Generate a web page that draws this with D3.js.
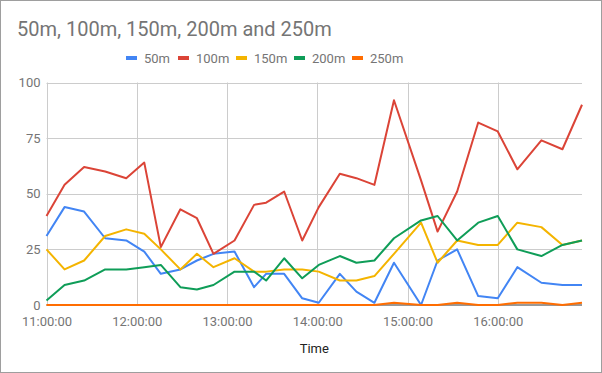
<!DOCTYPE html>
<html>
<head>
    <title>50m, 100m, 150m, 200m and 250m</title>
    <script src="https://d3js.org/d3.v7.min.js"></script>
    <style>
        body { margin: 0; background: #fff; }
        text { font-family: Roboto, Arial, sans-serif; }
    </style>
</head>
<body>
    <svg id="chart"></svg>

    <script>
        const times = [
            "11:00", "11:12", "11:25", "11:39", "11:53", "12:05", "12:16", "12:29",
            "12:40", "12:51", "13:05", "13:18", "13:26", "13:38", "13:50", "14:01",
            "14:15", "14:26", "14:38", "14:51", "15:09", "15:20", "15:33", "15:47",
            "16:00", "16:13", "16:29", "16:43", "16:56"
        ];
        const s50 = [31, 44, 42, 30, 29, 24, 14, 16, 20, 23, 24, 8, 14, 14, 3, 1,
            14, 6, 1, 19, 0, 20, 25, 4, 3, 17, 10, 9, 9];
        const s100 = [40, 54, 62, 60, 57, 64, 26, 43, 39, 23, 29, 45, 46, 51, 29, 44,
            59, 57, 54, 92, 56, 33, 51, 82, 78, 61, 74, 70, 90];
        const s150 = [25, 16, 20, 31, 34, 32, 25, 16, 23, 17, 21, 15, 15, 16, 16, 15,
            11, 11, 13, 23, 37, 19, 29, 27, 27, 37, 35, 27, 29];
        const s200 = [2, 9, 11, 16, 16, 17, 18, 8, 7, 9, 15, 15, 11, 21, 12, 18,
            22, 19, 20, 30, 38, 40, 29, 37, 40, 25, 22, 27, 29];
        const s250 = [0, 0, 0, 0, 0, 0, 0, 0, 0, 0, 0, 0, 0, 0, 0, 0,
            0, 0, 0, 1, 0, 0, 1, 0, 0, 1, 1, 0, 1];
        const seriesNames = ["50m", "100m", "150m", "200m", "250m"];
        const seriesValues = [s50, s100, s150, s200, s250];
        const colors = ["#4285f4", "#db4437", "#f4b400", "#0f9d58", "#ff6d01"];
        const yTicks = [0, 25, 50, 75, 100];
        const xTicks = ["11:00", "12:00", "13:00", "14:00", "15:00", "16:00"];

        const W = 602, H = 373;
        const plot = { left: 46.5, right: 582, top: 82.5, bottom: 305 };

        const parse = d3.timeParse("%H:%M");
        const dates = times.map(parse);

        const svg = d3.select("#chart").attr("width", W).attr("height", H);

        svg.append("rect")
            .attr("x", 0.5).attr("y", 0.5)
            .attr("width", W - 1).attr("height", H - 1)
            .attr("fill", "#fff").attr("stroke", "#9e9e9e");

        const x = d3.scaleTime()
            .domain([dates[0], dates[dates.length - 1]])
            .range([plot.left, plot.right]);
        const y = d3.scaleLinear()
            .domain([0, 100])
            .range([plot.bottom, plot.top]);

        // title
        svg.append("text")
            .attr("x", 17).attr("y", 36)
            .attr("font-size", 20)
            .attr("fill", "#757575")
            .text("50m, 100m, 150m, 200m and 250m");

        // legend
        const legendX = [126, 178, 236, 294, 352];
        const legend = svg.append("g");
        seriesNames.forEach((name, i) => {
            legend.append("rect")
                .attr("x", legendX[i]).attr("y", 56)
                .attr("width", 11).attr("height", 4)
                .attr("fill", colors[i]);
            legend.append("text")
                .attr("x", legendX[i] + 18).attr("y", 62.5)
                .attr("font-size", 13)
                .attr("fill", "#757575")
                .text(name);
        });

        // gridlines
        const grid = svg.append("g");
        grid.selectAll("line.h")
            .data(yTicks.filter(d => d > 0))
            .join("line")
            .attr("x1", plot.left).attr("x2", plot.right)
            .attr("y1", d => Math.round(y(d)) + 0.5)
            .attr("y2", d => Math.round(y(d)) + 0.5)
            .attr("stroke", "#cccccc");
        grid.selectAll("line.v")
            .data(xTicks.map(parse))
            .join("line")
            .attr("x1", d => Math.round(x(d)) + 0.5)
            .attr("x2", d => Math.round(x(d)) + 0.5)
            .attr("y1", plot.top).attr("y2", plot.bottom)
            .attr("stroke", "#cccccc");

        // y axis labels
        const yAxis = svg.append("g")
            .attr("transform", `translate(${plot.left - 6},0)`)
            .call(d3.axisLeft(y).tickValues(yTicks).tickSize(0).tickPadding(0));
        yAxis.select(".domain").remove();
        yAxis.selectAll("text")
            .attr("font-size", 13)
            .attr("font-family", "Roboto, Arial, sans-serif")
            .attr("fill", "#757575");

        // x axis labels
        const xAxis = svg.append("g")
            .attr("transform", `translate(0,${plot.bottom + 6})`)
            .call(d3.axisBottom(x)
                .tickValues(xTicks.map(parse))
                .tickFormat(d3.timeFormat("%H:%M:%S"))
                .tickSize(0).tickPadding(6));
        xAxis.select(".domain").remove();
        xAxis.selectAll("text")
            .attr("font-size", 13)
            .attr("font-family", "Roboto, Arial, sans-serif")
            .attr("fill", "#757575");

        // baseline
        svg.append("line")
            .attr("x1", plot.left).attr("x2", plot.right)
            .attr("y1", y(0)).attr("y2", y(0))
            .attr("stroke", "#333333");

        // series lines
        const line = d3.line()
            .x((d, i) => x(dates[i]))
            .y(d => y(d));
        svg.append("g")
            .selectAll("path")
            .data(seriesValues)
            .join("path")
            .attr("d", d => line(d))
            .attr("fill", "none")
            .attr("stroke", (d, i) => colors[i])
            .attr("stroke-width", 2)
            .attr("stroke-linejoin", "round");

        // axis title
        svg.append("text")
            .attr("x", (plot.left + plot.right) / 2)
            .attr("y", 353)
            .attr("text-anchor", "middle")
            .attr("font-size", 13)
            .attr("fill", "#222222")
            .text("Time");
    </script>
</body>
</html>
